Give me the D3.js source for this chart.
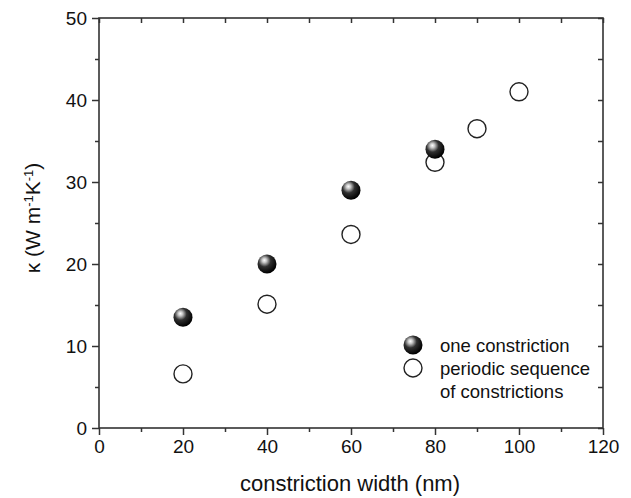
<!DOCTYPE html>
<html>
<head>
<meta charset="utf-8">
<script src="https://cdn.jsdelivr.net/npm/d3@7"></script>
<style>
  body { margin: 0; background: #fff; }
  text { font-family: "Liberation Sans", Arial, sans-serif; fill: #111; }
</style>
</head>
<body>
<svg id="chart" width="631" height="498"></svg>
<script>
// one constriction (filled spheres)
const oneX = [20, 40, 60, 80];
const oneY = [13.5, 20, 29, 34];
// periodic sequence of constrictions (open circles)
const perX = [20, 40, 60, 80, 90, 100];
const perY = [6.6, 15.1, 23.6, 32.4, 36.5, 41];

const xTicks = [0, 20, 40, 60, 80, 100, 120];
const yTicks = [0, 10, 20, 30, 40, 50];

const svg = d3.select('#chart');
const margin = {left: 99, right: 28, top: 18, bottom: 70};
const W = 631, H = 498;

const x = d3.scaleLinear().domain([0, 120]).range([margin.left, W - margin.right]);
const y = d3.scaleLinear().domain([0, 50]).range([H - margin.bottom, margin.top]);

// sphere gradient
const defs = svg.append('defs');
const grad = defs.append('radialGradient')
  .attr('id', 'ball')
  .attr('cx', '0.38').attr('cy', '0.35').attr('r', '0.65')
  .attr('fx', '0.36').attr('fy', '0.3');
grad.append('stop').attr('offset', '0').attr('stop-color', '#ffffff');
grad.append('stop').attr('offset', '0.18').attr('stop-color', '#c8c8c8');
grad.append('stop').attr('offset', '0.5').attr('stop-color', '#303030');
grad.append('stop').attr('offset', '1').attr('stop-color', '#000000');

const minorX = d3.range(10, 120, 20);
const minorY = d3.range(5, 50, 10);
const axisColor = '#333';

function styleAxis(g) {
  g.select('.domain').remove();
  g.selectAll('line').attr('stroke', axisColor).attr('stroke-width', 1.5);
  g.selectAll('text').style('font-size', '19px').attr('fill', '#111');
}

// bottom axis (outward ticks)
svg.append('g')
  .attr('transform', `translate(0,${y(0)})`)
  .call(d3.axisBottom(x).tickValues(xTicks).tickSize(7).tickPadding(5).tickFormat(d3.format('d')))
  .call(styleAxis);
svg.append('g')
  .attr('transform', `translate(0,${y(0)})`)
  .call(d3.axisBottom(x).tickValues(minorX).tickSize(4).tickFormat(''))
  .call(styleAxis);

// left axis
svg.append('g')
  .attr('transform', `translate(${x(0)},0)`)
  .call(d3.axisLeft(y).tickValues(yTicks).tickSize(7).tickPadding(5).tickFormat(d3.format('d')))
  .call(styleAxis);
svg.append('g')
  .attr('transform', `translate(${x(0)},0)`)
  .call(d3.axisLeft(y).tickValues(minorY).tickSize(4).tickFormat(''))
  .call(styleAxis);

// top & right mirror ticks (inward)
svg.append('g')
  .attr('transform', `translate(0,${y(50)})`)
  .call(d3.axisTop(x).tickValues(xTicks.concat(minorX)).tickSize(-5).tickFormat(''))
  .call(styleAxis);
svg.append('g')
  .attr('transform', `translate(${x(120)},0)`)
  .call(d3.axisRight(y).tickValues(yTicks.concat(minorY)).tickSize(-5).tickFormat(''))
  .call(styleAxis);

// frame
svg.append('rect')
  .attr('x', x(0)).attr('y', y(50))
  .attr('width', x(120) - x(0)).attr('height', y(0) - y(50))
  .attr('fill', 'none').attr('stroke', axisColor).attr('stroke-width', 1.6);

// data
svg.append('g').selectAll('circle')
  .data(perX.map((d, i) => [d, perY[i]]))
  .join('circle')
  .attr('cx', d => x(d[0])).attr('cy', d => y(d[1])).attr('r', 9)
  .attr('fill', '#fff').attr('stroke', '#222').attr('stroke-width', 1.4);

svg.append('g').selectAll('circle')
  .data(oneX.map((d, i) => [d, oneY[i]]))
  .join('circle')
  .attr('cx', d => x(d[0])).attr('cy', d => y(d[1])).attr('r', 9.5)
  .attr('fill', 'url(#ball)');

// legend
const lg = svg.append('g').attr('transform', 'translate(413,345)');
lg.append('circle').attr('cx', 0).attr('cy', 0).attr('r', 9.5).attr('fill', 'url(#ball)');
lg.append('circle').attr('cx', 0).attr('cy', 23).attr('r', 9)
  .attr('fill', '#fff').attr('stroke', '#222').attr('stroke-width', 1.4);
const legText = ['one constriction', 'periodic sequence', 'of constrictions'];
lg.selectAll('text.l').data(legText).join('text')
  .attr('class', 'l')
  .attr('x', 27).attr('y', (d, i) => 7 + i * 23)
  .style('font-size', '18.5px')
  .text(d => d);

// axis titles
svg.append('text')
  .attr('x', (x(0) + x(120)) / 2 - 1).attr('y', 491)
  .attr('text-anchor', 'middle')
  .style('font-size', '22px')
  .text('constriction width (nm)');

const yl = svg.append('text')
  .attr('transform', `translate(40,${(y(0) + y(50)) / 2 - 5}) rotate(-90)`)
  .attr('text-anchor', 'middle')
  .style('font-size', '21px');
yl.append('tspan').text('κ (W m');
yl.append('tspan').attr('baseline-shift', 'super').style('font-size', '13px').text('-1');
yl.append('tspan').text('K');
yl.append('tspan').attr('baseline-shift', 'super').style('font-size', '13px').text('-1');
yl.append('tspan').text(')');
</script>
</body>
</html>
